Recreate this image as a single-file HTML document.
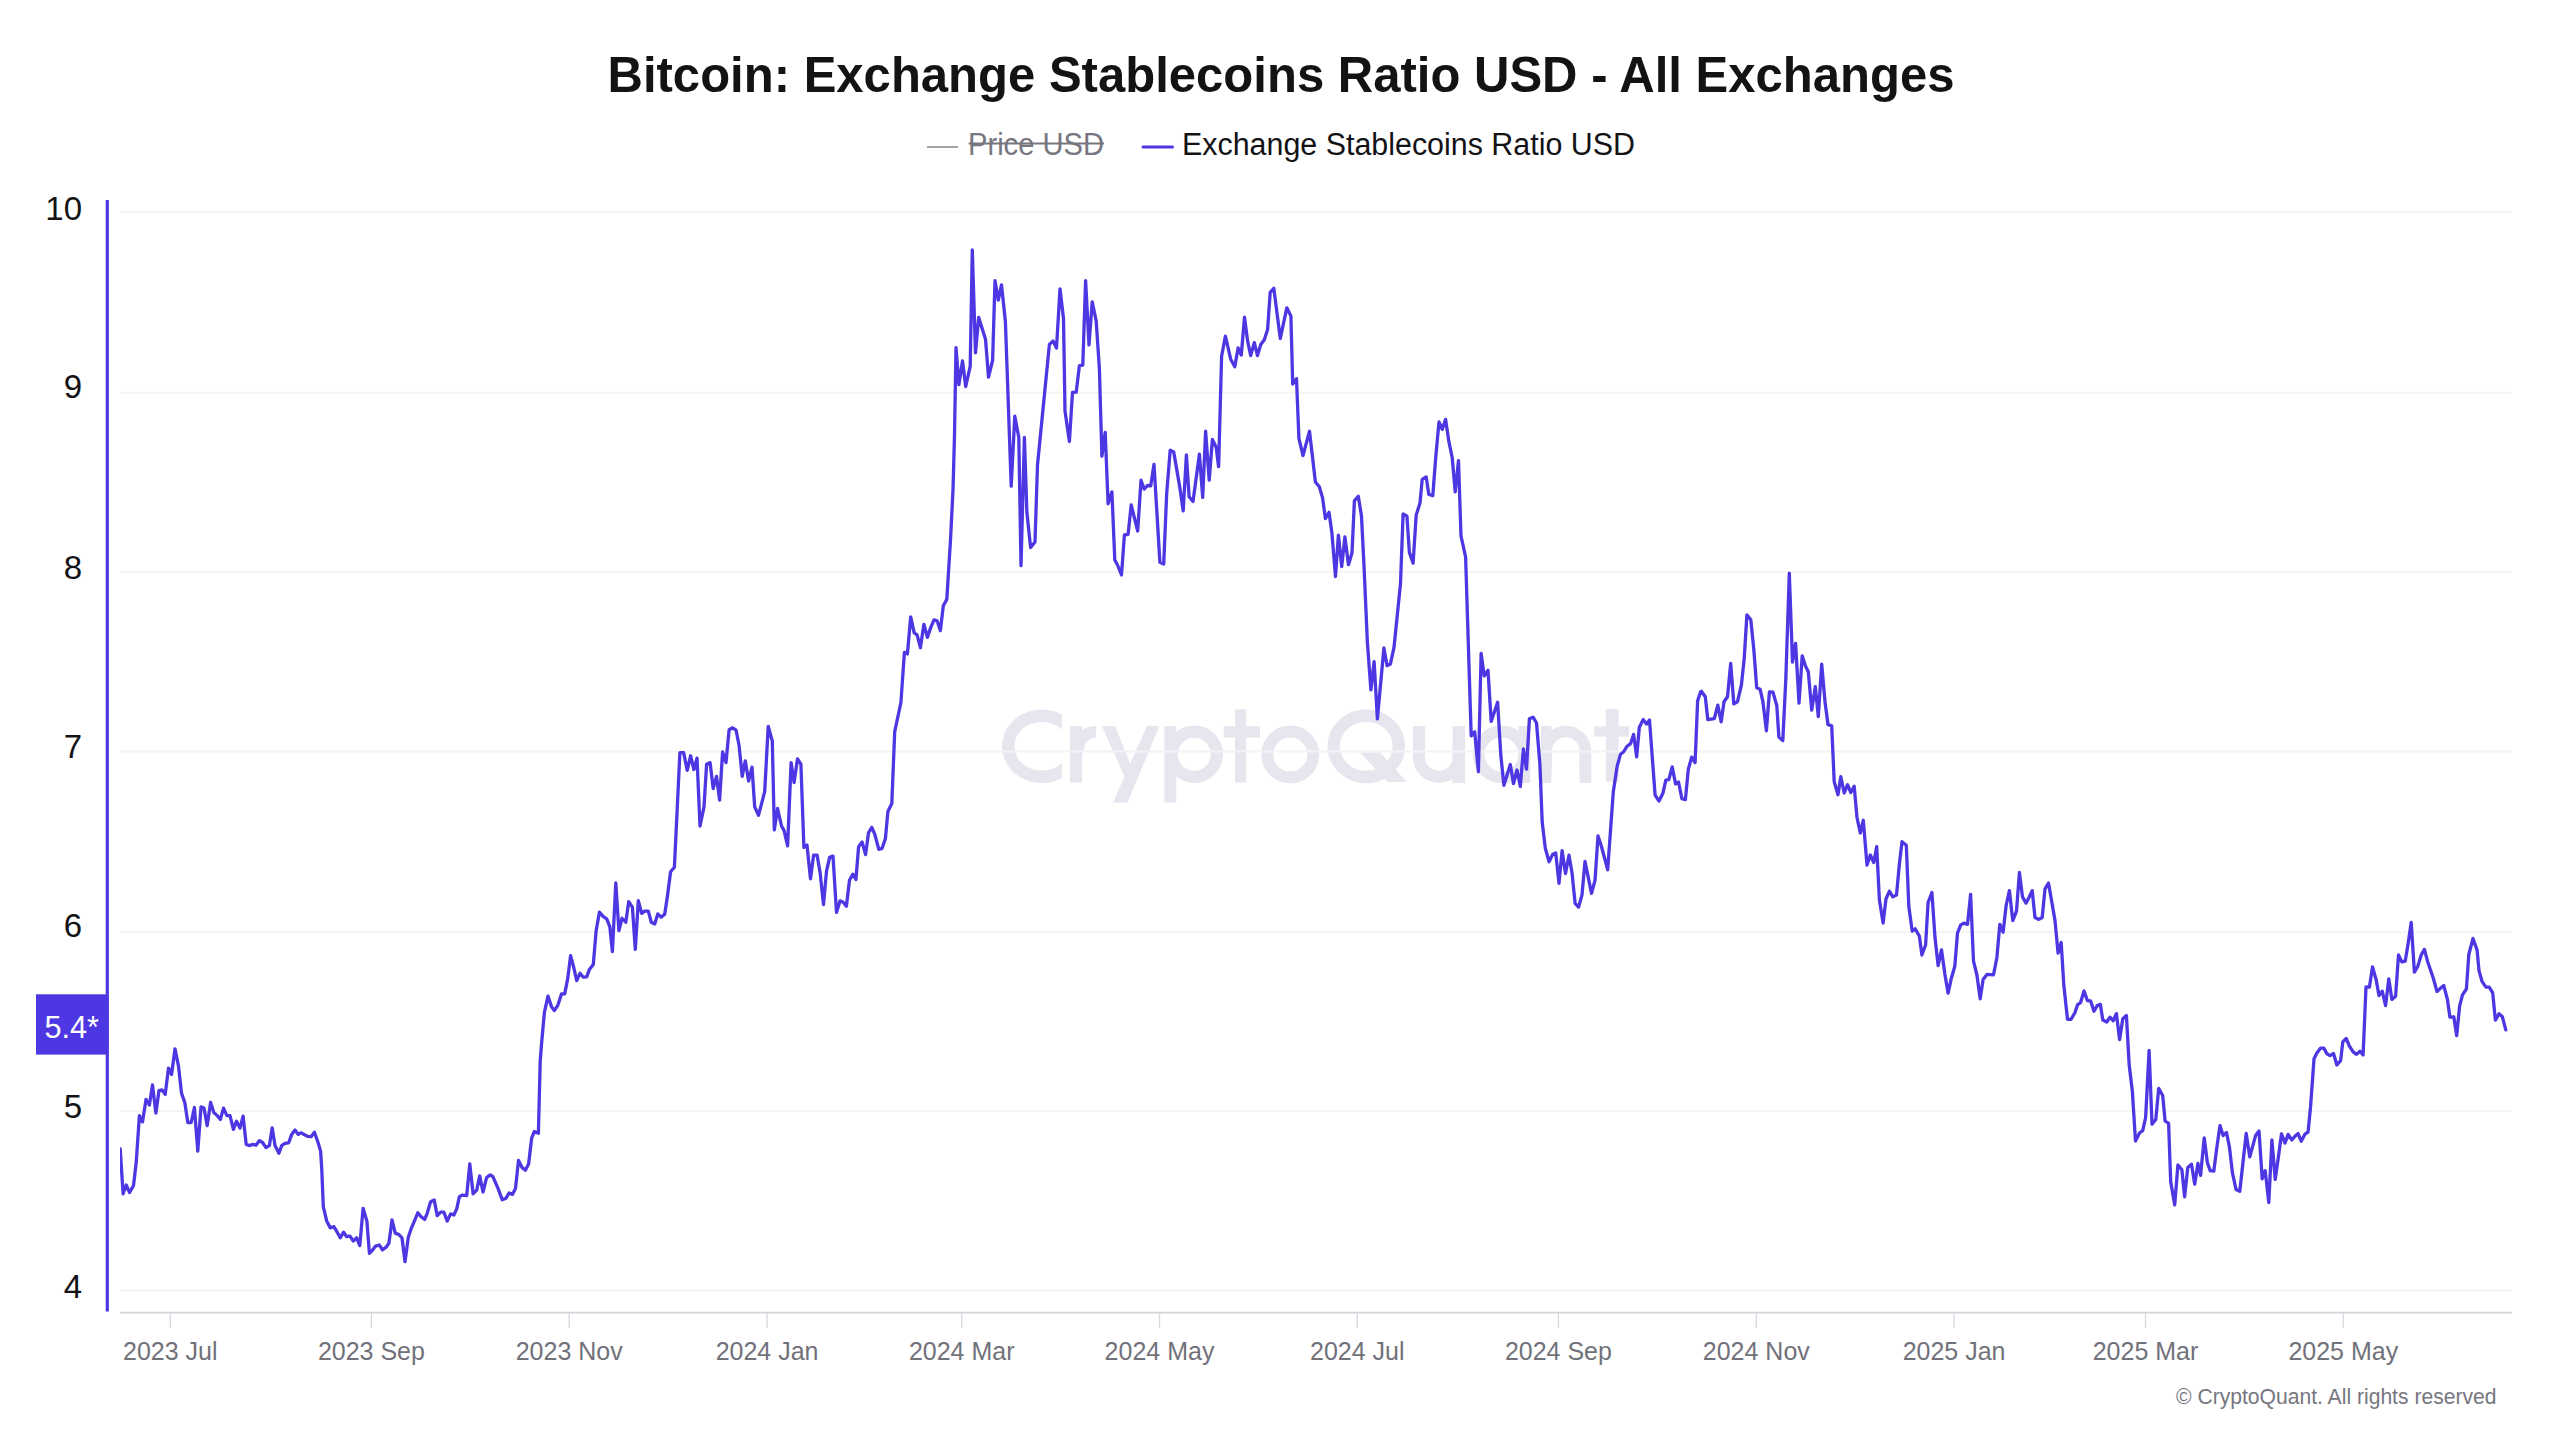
<!DOCTYPE html>
<html><head><meta charset="utf-8"><style>
html,body{margin:0;padding:0;background:#fff;width:2560px;height:1440px;overflow:hidden}
svg{display:block}
text{font-family:"Liberation Sans",sans-serif}
.title{font-size:50.5px;font-weight:bold;fill:#131316}
.leg1{font-size:31px;fill:#76767f}
.leg2{font-size:31px;fill:#131316}
.xl{font-size:25px;fill:#71717a}
.yl{font-size:33px;fill:#131316}
.badge{font-size:32px;fill:#fff}
.wm{font-size:100px;font-weight:bold;fill:#e4e3ec}
.copy{font-size:22px;fill:#76767f}
</style></head><body>
<svg width="2560" height="1440" viewBox="0 0 2560 1440">
<g fill="#e7e6ee" stroke="none">
<path fill-rule="evenodd" d="M1062,714.4 A40,36.85 0 1,0 1062,778.1 L1062,762.9 A27.5,24.35 0 1,1 1062,729.6 Z"/>
<rect x="1070" y="726" width="12" height="56.5"/>
<path d="M1070,760 Q1071,726 1096,726 L1096,737.5 Q1083,737.5 1082,760 Z"/>
<polygon points="1146.9,726 1159.4,726 1127.5,802.5 1113,802.5"/>
<polygon points="1101.9,726 1115,726 1136,778 1125,778"/>
<rect x="1164.4" y="726" width="11.85" height="76.5"/>
<rect x="1235" y="709.4" width="11.25" height="73.1"/>
<rect x="1223.75" y="726.25" width="36.25" height="11.25"/>
<polygon points="1360,752.5 1380,752.5 1407,782 1387.5,782"/>
<rect x="1452.5" y="726" width="12.5" height="57"/>
<rect x="1518.5" y="726" width="11.8" height="57"/>
<rect x="1540.9" y="726" width="10.5" height="57"/>
<rect x="1579.5" y="751" width="11.7" height="32"/>
<rect x="1605.9" y="709.1" width="12.7" height="72.5"/>
<rect x="1594" y="726.4" width="35.1" height="10.2"/>
</g>
<g fill="none" stroke="#e7e6ee">
<circle cx="1194.3" cy="754.3" r="22.6" stroke-width="12.2"/>
<circle cx="1290.3" cy="754.4" r="23" stroke-width="12"/>
<ellipse cx="1366.25" cy="746.25" rx="32.6" ry="30.75" stroke-width="12.3"/>
<path d="M1419,726 L1419,757 A19.85,19.85 0 0,0 1458.75,757" stroke-width="12"/>
<circle cx="1501.5" cy="754.4" r="22.9" stroke-width="11.8"/>
<path d="M1546.2,770 L1546.2,751 A19.6,19.6 0 0,1 1585.4,751 L1585.4,770" stroke-width="11.5"/>
</g>
<line x1="120" y1="212.1" x2="2512" y2="212.1" stroke="#f3f3f6" stroke-width="1.8"/>
<line x1="120" y1="392.7" x2="2512" y2="392.7" stroke="#f3f3f6" stroke-width="1.8"/>
<line x1="120" y1="571.8" x2="2512" y2="571.8" stroke="#f3f3f6" stroke-width="1.8"/>
<line x1="120" y1="751.5" x2="2512" y2="751.5" stroke="#f3f3f6" stroke-width="1.8"/>
<line x1="120" y1="932.1" x2="2512" y2="932.1" stroke="#f3f3f6" stroke-width="1.8"/>
<line x1="120" y1="1111.1" x2="2512" y2="1111.1" stroke="#f3f3f6" stroke-width="1.8"/>
<line x1="120" y1="1290.6" x2="2512" y2="1290.6" stroke="#f3f3f6" stroke-width="1.8"/>
<line x1="120" y1="1312.7" x2="2512" y2="1312.7" stroke="#d3d3dc" stroke-width="1.8"/>
<line x1="170.3" y1="1313" x2="170.3" y2="1328" stroke="#d8d8df" stroke-width="1.3"/>
<text x="170.3" y="1360" text-anchor="middle" class="xl">2023 Jul</text>
<line x1="371.4" y1="1313" x2="371.4" y2="1328" stroke="#d8d8df" stroke-width="1.3"/>
<text x="371.4" y="1360" text-anchor="middle" class="xl">2023 Sep</text>
<line x1="569.2" y1="1313" x2="569.2" y2="1328" stroke="#d8d8df" stroke-width="1.3"/>
<text x="569.2" y="1360" text-anchor="middle" class="xl">2023 Nov</text>
<line x1="767.1" y1="1313" x2="767.1" y2="1328" stroke="#d8d8df" stroke-width="1.3"/>
<text x="767.1" y="1360" text-anchor="middle" class="xl">2024 Jan</text>
<line x1="961.7" y1="1313" x2="961.7" y2="1328" stroke="#d8d8df" stroke-width="1.3"/>
<text x="961.7" y="1360" text-anchor="middle" class="xl">2024 Mar</text>
<line x1="1159.5" y1="1313" x2="1159.5" y2="1328" stroke="#d8d8df" stroke-width="1.3"/>
<text x="1159.5" y="1360" text-anchor="middle" class="xl">2024 May</text>
<line x1="1357.3" y1="1313" x2="1357.3" y2="1328" stroke="#d8d8df" stroke-width="1.3"/>
<text x="1357.3" y="1360" text-anchor="middle" class="xl">2024 Jul</text>
<line x1="1558.4" y1="1313" x2="1558.4" y2="1328" stroke="#d8d8df" stroke-width="1.3"/>
<text x="1558.4" y="1360" text-anchor="middle" class="xl">2024 Sep</text>
<line x1="1756.3" y1="1313" x2="1756.3" y2="1328" stroke="#d8d8df" stroke-width="1.3"/>
<text x="1756.3" y="1360" text-anchor="middle" class="xl">2024 Nov</text>
<line x1="1954.1" y1="1313" x2="1954.1" y2="1328" stroke="#d8d8df" stroke-width="1.3"/>
<text x="1954.1" y="1360" text-anchor="middle" class="xl">2025 Jan</text>
<line x1="2145.5" y1="1313" x2="2145.5" y2="1328" stroke="#d8d8df" stroke-width="1.3"/>
<text x="2145.5" y="1360" text-anchor="middle" class="xl">2025 Mar</text>
<line x1="2343.3" y1="1313" x2="2343.3" y2="1328" stroke="#d8d8df" stroke-width="1.3"/>
<text x="2343.3" y="1360" text-anchor="middle" class="xl">2025 May</text>
<text x="82" y="219.8" text-anchor="end" class="yl">10</text>
<text x="82" y="398.2" text-anchor="end" class="yl">9</text>
<text x="82" y="578.5" text-anchor="end" class="yl">8</text>
<text x="82" y="758.0" text-anchor="end" class="yl">7</text>
<text x="82" y="937.4" text-anchor="end" class="yl">6</text>
<text x="82" y="1118.3" text-anchor="end" class="yl">5</text>
<text x="82" y="1297.7" text-anchor="end" class="yl">4</text>
<line x1="107.3" y1="200" x2="107.3" y2="1311.5" stroke="#4c37e2" stroke-width="3.2"/>
<clipPath id="cp"><rect x="120" y="150" width="2400" height="1200"/></clipPath>
<polyline clip-path="url(#cp)" fill="none" stroke="#4c37e2" stroke-width="3.3" stroke-linejoin="round" stroke-linecap="round" points="117.0,1172.0 120.2,1148.8 123.1,1193.8 126.2,1185.0 129.6,1192.5 133.5,1185.6 136.2,1162.5 139.4,1115.6 142.5,1121.9 146.0,1099.4 149.4,1105.0 152.5,1085.0 155.9,1113.1 159.0,1090.6 161.9,1089.8 165.2,1094.4 168.5,1068.1 171.6,1074.4 175.0,1048.8 178.5,1066.2 181.5,1093.1 184.8,1102.5 187.8,1122.5 191.2,1122.5 194.4,1107.5 197.8,1151.2 201.0,1106.9 204.0,1108.1 207.2,1125.6 210.6,1102.5 213.8,1112.5 217.2,1115.6 220.4,1119.4 223.5,1108.1 226.9,1115.6 230.0,1115.6 233.4,1129.4 236.5,1121.2 240.0,1128.1 243.1,1116.2 246.2,1144.4 249.8,1145.6 252.5,1144.4 256.0,1145.2 259.4,1140.6 262.5,1142.5 266.0,1147.5 269.4,1145.6 272.2,1127.8 275.0,1145.6 278.9,1153.3 281.7,1145.6 285.0,1143.3 288.7,1142.8 291.7,1134.4 295.0,1130.0 298.3,1134.4 301.3,1132.8 305.0,1135.0 308.0,1136.4 311.1,1136.7 314.4,1132.2 317.8,1141.7 320.6,1151.1 321.7,1167.8 323.3,1206.7 326.7,1221.1 330.2,1227.8 333.9,1226.7 337.2,1232.2 340.2,1237.8 343.6,1232.2 346.7,1236.7 350.0,1236.1 353.3,1241.1 356.7,1237.8 359.8,1245.6 363.1,1208.3 366.9,1221.1 369.4,1253.3 372.2,1250.6 375.6,1246.1 379.4,1245.0 382.4,1249.8 386.1,1247.2 388.9,1243.3 392.0,1220.0 395.3,1233.3 398.7,1234.4 402.0,1237.8 405.0,1261.7 408.3,1237.2 411.3,1228.3 414.4,1221.1 417.8,1212.8 421.1,1216.7 424.7,1219.4 427.2,1213.3 430.6,1201.7 434.2,1200.0 437.2,1215.6 440.6,1212.2 443.9,1212.2 447.2,1221.1 450.6,1213.9 453.9,1215.0 456.7,1208.9 459.4,1196.7 462.2,1195.1 466.7,1195.6 469.8,1164.0 473.1,1193.8 476.7,1190.2 479.7,1175.8 483.0,1192.0 486.6,1177.6 490.2,1174.9 492.9,1176.7 498.0,1188.4 502.3,1199.8 505.9,1198.3 509.2,1192.9 512.4,1194.4 515.5,1188.4 518.5,1160.4 522.1,1167.6 525.4,1170.3 528.6,1164.0 531.7,1137.8 534.4,1131.5 538.4,1133.3 540.2,1061.1 541.6,1043.1 544.4,1012.4 548.0,996.1 551.6,1006.9 554.3,1010.6 557.9,1005.1 561.5,993.9 564.7,993.9 567.8,978.1 570.6,955.6 573.3,965.6 576.7,980.6 580.0,973.3 583.3,977.2 586.7,976.9 589.4,969.4 593.3,964.4 596.1,931.1 599.4,912.2 603.3,916.7 606.7,918.9 609.8,926.7 612.4,951.7 615.8,882.8 618.9,930.6 622.0,918.3 625.8,922.2 628.7,901.7 632.4,907.2 635.3,949.4 638.3,900.6 641.7,913.3 644.7,911.1 648.3,911.1 651.3,922.2 654.7,923.9 657.8,913.9 661.1,917.2 664.7,914.2 667.2,897.8 670.6,871.7 674.4,867.2 679.9,752.7 683.7,752.7 687.2,770.3 690.6,755.8 693.9,769.5 697.0,758.1 700.0,826.0 704.0,806.9 706.6,764.2 710.1,762.6 713.2,788.6 716.5,776.4 719.6,800.1 722.6,751.9 726.0,762.6 729.1,729.8 732.6,727.8 736.1,730.2 739.1,745.8 742.2,776.4 745.3,760.8 748.6,781.0 752.0,767.2 754.7,806.9 758.5,815.3 764.7,791.7 768.2,726.3 772.3,741.2 774.3,829.9 777.6,808.5 781.5,826.0 784.1,830.6 787.6,845.9 791.1,762.6 794.1,782.5 797.5,758.8 800.9,764.2 803.9,847.4 807.0,845.1 810.5,878.8 813.6,855.1 817.1,855.1 820.1,872.6 823.5,904.7 826.5,871.1 829.6,857.4 833.0,856.1 836.5,912.4 840.0,900.9 843.0,902.0 846.4,906.2 849.5,880.3 852.8,874.2 855.9,879.5 858.6,846.7 862.1,842.1 865.6,854.6 868.5,832.8 871.8,827.3 874.9,834.7 878.8,849.3 882.1,848.3 885.4,838.6 887.9,811.4 891.8,803.6 894.7,731.7 900.9,702.5 904.4,652.3 907.4,653.9 910.7,616.9 914.2,632.9 917.1,634.8 920.4,647.7 923.9,624.3 927.4,637.4 930.7,627.6 934.0,619.9 937.1,620.8 940.4,630.6 943.3,605.7 946.8,599.4 950.5,540.0 953.0,490.0 954.5,435.0 956.0,347.7 958.9,384.7 962.5,361.0 965.7,386.5 970.2,366.4 972.3,250.0 975.5,352.8 978.7,317.4 985.5,339.2 988.5,377.0 992.6,360.5 995.0,280.7 998.3,300.2 1001.5,284.9 1005.4,321.5 1011.2,486.2 1014.8,416.2 1018.8,437.5 1021.0,565.6 1024.4,437.5 1026.9,512.5 1030.6,547.5 1035.0,541.9 1037.5,465.0 1049.4,344.4 1053.1,341.0 1056.5,348.1 1060.0,288.8 1063.5,318.8 1065.0,411.0 1069.4,441.5 1072.5,392.5 1076.2,392.2 1079.4,365.6 1082.8,365.2 1085.6,280.6 1089.0,344.8 1092.2,301.9 1096.2,321.2 1099.4,368.8 1101.9,456.2 1105.2,432.5 1108.1,503.8 1111.9,491.9 1114.8,560.0 1117.5,565.0 1121.5,575.0 1124.4,535.0 1128.1,534.4 1131.2,505.0 1137.7,531.0 1141.0,480.2 1144.2,489.1 1147.4,485.5 1150.7,485.9 1154.0,464.3 1159.9,562.3 1163.7,564.1 1166.7,493.2 1170.2,450.1 1173.7,451.9 1179.6,486.1 1183.2,510.9 1186.4,454.8 1189.1,496.8 1193.0,501.5 1199.4,454.2 1202.7,497.4 1205.6,431.2 1209.2,480.2 1212.4,439.5 1216.2,447.2 1218.6,466.7 1221.6,356.2 1225.4,336.1 1230.7,359.2 1234.8,366.8 1238.1,348.0 1241.3,355.0 1244.5,317.2 1247.6,340.9 1250.7,355.6 1254.3,342.6 1257.5,355.6 1260.8,344.4 1264.3,339.7 1267.6,329.6 1270.2,292.4 1273.8,288.3 1280.3,338.5 1286.8,307.8 1290.9,316.1 1292.7,384.0 1296.5,378.7 1298.9,438.3 1303.0,455.5 1309.5,431.3 1315.4,482.0 1319.3,486.8 1322.5,497.4 1325.4,518.7 1329.0,512.2 1331.9,532.8 1335.5,576.5 1338.4,535.2 1341.7,566.5 1344.9,537.0 1348.5,564.7 1352.0,552.9 1354.4,500.9 1358.3,496.2 1361.5,516.3 1364.2,570.0 1367.4,642.7 1370.9,689.9 1374.1,661.6 1377.4,718.9 1383.9,648.0 1387.1,665.7 1390.4,664.0 1394.0,647.4 1400.5,583.6 1403.1,513.8 1406.9,516.2 1409.4,552.5 1413.1,563.1 1416.2,515.0 1420.0,503.1 1422.2,479.4 1426.2,476.9 1428.8,494.4 1432.8,495.6 1435.6,458.8 1439.0,421.9 1442.2,429.4 1445.6,419.4 1448.8,441.2 1452.2,457.5 1455.2,491.9 1458.5,460.6 1461.0,536.0 1465.6,556.9 1471.2,735.8 1474.7,731.8 1478.4,771.7 1481.1,653.5 1484.3,675.9 1488.0,670.3 1491.2,721.4 1497.6,702.2 1500.8,755.0 1503.9,785.3 1510.3,764.5 1513.5,783.7 1517.0,770.0 1520.3,786.5 1523.4,749.0 1526.5,769.2 1529.4,718.8 1533.1,717.2 1536.5,723.0 1539.9,764.2 1542.2,822.3 1545.3,848.3 1549.1,861.7 1552.6,854.4 1555.7,852.9 1559.0,883.4 1562.1,850.6 1565.5,873.5 1569.0,855.2 1572.0,872.7 1575.1,903.3 1578.6,907.1 1582.0,894.9 1585.0,861.3 1591.5,893.4 1595.0,880.4 1598.0,836.0 1601.1,845.2 1607.7,869.7 1613.3,791.7 1617.1,766.5 1620.5,754.3 1623.5,752.0 1627.1,746.2 1630.6,743.6 1633.6,734.4 1636.7,756.9 1639.3,727.5 1643.1,719.6 1646.5,724.1 1649.5,720.0 1655.1,795.2 1659.0,801.1 1662.9,793.3 1665.8,780.1 1668.8,779.6 1672.2,766.9 1675.6,784.0 1678.5,782.0 1681.9,798.6 1685.4,799.6 1688.3,769.4 1691.7,757.1 1695.1,762.5 1697.6,701.0 1700.5,692.0 1701.4,691.2 1705.3,696.8 1707.8,719.7 1714.3,718.6 1717.8,705.1 1721.2,721.8 1724.0,701.7 1727.5,696.8 1730.7,663.5 1733.8,703.8 1737.5,701.7 1741.4,685.0 1744.2,658.6 1746.9,614.9 1750.8,619.7 1753.9,650.3 1756.7,687.8 1760.1,689.2 1762.9,701.7 1766.4,730.8 1769.4,691.9 1773.0,692.2 1776.8,705.8 1778.9,737.1 1782.8,740.6 1785.8,679.4 1789.3,573.2 1792.5,662.1 1795.6,643.3 1799.0,703.1 1802.2,655.8 1805.3,665.6 1808.3,671.8 1811.7,710.0 1815.3,686.7 1818.3,716.7 1821.7,664.2 1825.0,701.7 1828.0,724.7 1831.7,725.8 1834.2,781.7 1838.0,794.7 1840.8,776.7 1844.2,793.0 1847.5,784.7 1850.8,792.5 1854.2,786.3 1857.0,817.5 1860.3,833.0 1863.3,820.3 1867.0,865.0 1870.3,855.0 1873.7,862.5 1876.7,846.7 1879.4,900.0 1883.1,923.1 1886.0,898.8 1889.4,891.2 1892.8,896.9 1896.5,895.0 1899.4,863.8 1902.0,841.7 1906.3,845.3 1908.8,906.2 1912.2,931.2 1915.2,928.8 1919.4,936.2 1921.9,955.0 1925.6,945.0 1928.1,902.5 1931.9,892.5 1935.0,937.5 1938.1,965.6 1941.5,949.8 1945.0,975.0 1948.1,993.1 1951.2,978.8 1954.8,966.2 1957.5,933.1 1960.6,925.2 1963.8,923.1 1967.5,924.4 1970.6,894.4 1973.5,961.2 1976.9,975.0 1980.2,998.8 1983.1,979.4 1986.9,974.4 1993.5,974.8 1996.9,957.5 1999.8,924.4 2003.1,932.2 2006.2,905.0 2009.4,890.6 2012.8,920.6 2016.5,911.2 2019.4,872.5 2022.5,896.9 2026.0,903.1 2029.0,897.5 2032.2,890.6 2035.0,917.5 2038.8,919.4 2042.2,917.5 2045.0,888.8 2048.5,883.1 2051.9,902.5 2055.0,920.6 2058.1,953.1 2061.2,942.5 2063.8,985.0 2067.5,1019.4 2071.0,1019.4 2075.0,1012.5 2077.5,1004.8 2080.6,1002.5 2084.0,991.0 2087.5,1000.6 2090.6,1001.0 2094.0,1011.2 2097.2,1005.6 2100.4,1004.4 2102.8,1020.0 2106.8,1022.0 2110.0,1017.2 2113.2,1020.7 2116.4,1013.6 2119.6,1039.5 2122.8,1018.8 2126.4,1015.6 2129.2,1065.1 2132.3,1090.7 2135.5,1141.0 2139.5,1133.0 2142.7,1130.6 2145.6,1117.8 2149.1,1050.4 2152.0,1124.2 2155.8,1119.4 2158.7,1088.3 2162.7,1095.5 2165.1,1121.0 2168.6,1123.4 2170.7,1181.8 2174.7,1204.9 2177.9,1165.0 2181.9,1169.8 2184.6,1196.9 2187.8,1167.4 2191.5,1164.2 2194.7,1184.2 2197.9,1163.4 2200.6,1175.4 2204.2,1137.8 2207.4,1162.6 2210.2,1170.6 2213.8,1171.2 2216.9,1146.9 2220.0,1125.6 2223.1,1135.6 2226.5,1132.5 2229.4,1146.9 2232.5,1173.1 2236.0,1189.4 2239.8,1191.2 2243.1,1161.2 2246.2,1133.5 2249.8,1156.9 2252.5,1146.9 2255.6,1135.6 2259.0,1131.0 2262.2,1178.8 2265.2,1170.6 2268.8,1202.5 2271.9,1140.0 2275.2,1179.4 2278.5,1156.2 2281.5,1133.8 2285.0,1143.1 2288.1,1134.4 2291.9,1140.0 2295.0,1136.2 2298.1,1133.5 2301.2,1141.2 2304.8,1134.4 2308.1,1131.9 2310.6,1106.2 2314.0,1058.8 2316.9,1053.1 2320.6,1048.1 2323.8,1048.1 2326.9,1053.8 2330.0,1055.6 2333.5,1053.5 2336.9,1065.0 2340.6,1060.6 2342.8,1041.9 2346.2,1038.5 2349.4,1046.2 2353.1,1051.9 2356.5,1054.4 2360.0,1051.2 2363.1,1055.0 2366.0,986.9 2369.4,987.2 2372.5,966.9 2376.2,980.0 2379.0,995.6 2382.2,991.2 2385.6,1005.6 2388.8,978.8 2391.9,999.4 2395.6,996.2 2398.5,955.0 2401.9,961.9 2405.2,961.2 2408.1,943.8 2411.2,922.5 2414.4,972.2 2417.8,966.2 2421.2,955.0 2424.4,949.4 2427.5,961.2 2433.3,978.3 2437.0,991.5 2440.6,988.1 2443.8,985.6 2447.4,999.3 2449.9,1017.2 2453.8,1016.8 2456.7,1035.7 2459.6,1006.1 2462.5,994.9 2466.4,989.0 2468.8,954.5 2473.0,938.5 2477.1,950.1 2479.0,970.6 2482.0,981.3 2485.9,987.1 2489.2,987.1 2492.7,992.9 2495.4,1020.2 2499.0,1013.8 2502.4,1016.8 2505.8,1029.9"/>
<rect x="36" y="994.3" width="71" height="60.3" fill="#4c37e2"/>
<text x="44.5" y="1037.6" textLength="54.5" lengthAdjust="spacingAndGlyphs" class="badge">5.4*</text>
<text x="607.5" y="91.7" textLength="1347" lengthAdjust="spacingAndGlyphs" class="title">Bitcoin: Exchange Stablecoins Ratio USD - All Exchanges</text>
<line x1="927" y1="147" x2="958" y2="147" stroke="#8b8b94" stroke-width="1.6"/>
<text x="968" y="155.3" textLength="136" lengthAdjust="spacingAndGlyphs" class="leg1">Price USD</text>
<line x1="968.7" y1="143.5" x2="1104" y2="143.5" stroke="#76767f" stroke-width="2"/>
<line x1="1143" y1="147" x2="1172.5" y2="147" stroke="#4c37e2" stroke-width="3" stroke-linecap="round"/>
<text x="1182" y="155.3" textLength="453" lengthAdjust="spacingAndGlyphs" class="leg2">Exchange Stablecoins Ratio USD</text>
<text x="2176" y="1403.7" textLength="320.5" lengthAdjust="spacingAndGlyphs" class="copy">© CryptoQuant. All rights reserved</text>
</svg>
</body></html>
